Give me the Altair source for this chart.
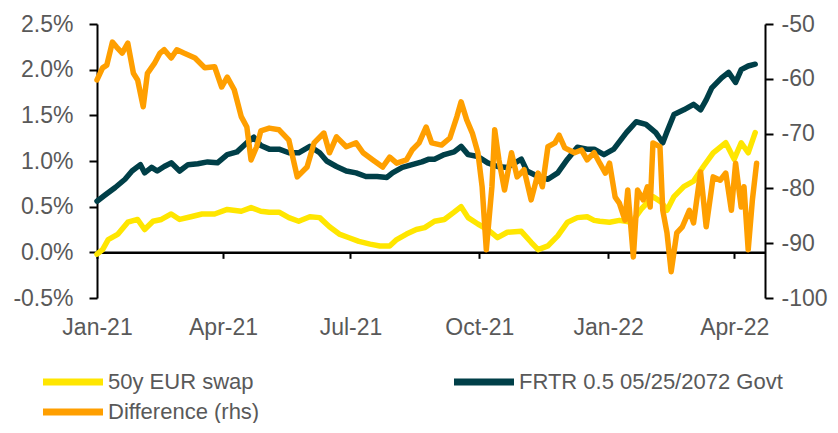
import altair as alt
import pandas as pd

SERIES = ["50y EUR swap", "FRTR 0.5 05/25/2072 Govt", "Difference (rhs)"]
COLORS = ["#FFE600", "#003F48", "#FF9F00"]
FONT = "Liberation Sans"
TXT = "#595959"

swap_dates = ["2021/01/01", "2021/01/05", "2021/01/09", "2021/01/16", "2021/01/23", "2021/01/30",
              "2021/02/04", "2021/02/10", "2021/02/16", "2021/02/23",
              "2021/03/01", "2021/03/09", "2021/03/17", "2021/03/26",
              "2021/04/04", "2021/04/14", "2021/04/21", "2021/04/28",
              "2021/05/04", "2021/05/11", "2021/05/18", "2021/05/25",
              "2021/06/02", "2021/06/09", "2021/06/16", "2021/06/23", "2021/06/30",
              "2021/07/07", "2021/07/15", "2021/07/22", "2021/07/29",
              "2021/08/03", "2021/08/10", "2021/08/17", "2021/08/23", "2021/08/30",
              "2021/09/06", "2021/09/13", "2021/09/18", "2021/09/23", "2021/09/30",
              "2021/10/07", "2021/10/14", "2021/10/21", "2021/10/31",
              "2021/11/07", "2021/11/12", "2021/11/19", "2021/11/26",
              "2021/12/03", "2021/12/10", "2021/12/17", "2021/12/22", "2021/12/26",
              "2022/01/02", "2022/01/09", "2022/01/18", "2022/01/25",
              "2022/02/02", "2022/02/08", "2022/02/12", "2022/02/17", "2022/02/24",
              "2022/03/03", "2022/03/10", "2022/03/17", "2022/03/26",
              "2022/04/01", "2022/04/06", "2022/04/11", "2022/04/16"]
swap_values = [-0.02, 0.03, 0.14, 0.20, 0.33, 0.36,
               0.25, 0.34, 0.36, 0.42,
               0.36, 0.39, 0.42, 0.42,
               0.47, 0.45, 0.49, 0.45,
               0.44, 0.44, 0.38, 0.34,
               0.39, 0.38, 0.28, 0.20, 0.16,
               0.12, 0.09, 0.07, 0.07,
               0.14, 0.20, 0.25, 0.27, 0.34,
               0.36, 0.44, 0.50, 0.38, 0.31,
               0.25, 0.16, 0.22, 0.23,
               0.11, 0.03, 0.07, 0.18,
               0.33, 0.38, 0.39, 0.35, 0.34,
               0.33, 0.35, 0.33, 0.48,
               0.61, 0.55, 0.46, 0.61, 0.72,
               0.78, 0.94, 1.09, 1.20,
               1.02, 1.20, 1.09, 1.31]

frtr_dates = ["2021/01/01", "2021/01/07", "2021/01/14", "2021/01/21", "2021/01/26",
              "2021/02/01", "2021/02/04", "2021/02/09", "2021/02/13", "2021/02/18", "2021/02/23",
              "2021/03/01", "2021/03/07", "2021/03/14", "2021/03/21", "2021/03/28",
              "2021/04/04", "2021/04/11", "2021/04/18", "2021/04/23", "2021/04/28",
              "2021/05/04", "2021/05/11", "2021/05/18", "2021/05/25",
              "2021/06/02", "2021/06/09", "2021/06/14", "2021/06/21", "2021/06/28",
              "2021/07/05", "2021/07/12", "2021/07/20", "2021/07/27", "2021/07/31",
              "2021/08/07", "2021/08/14", "2021/08/21", "2021/08/26", "2021/08/30",
              "2021/09/06", "2021/09/13", "2021/09/18", "2021/09/23", "2021/09/30",
              "2021/10/07", "2021/10/14", "2021/10/21", "2021/10/31",
              "2021/11/04", "2021/11/12", "2021/11/19", "2021/11/26",
              "2021/12/03", "2021/12/10", "2021/12/17", "2021/12/22", "2021/12/29",
              "2022/01/05", "2022/01/14", "2022/01/21", "2022/01/28",
              "2022/02/04", "2022/02/09", "2022/02/12", "2022/02/17", "2022/02/24",
              "2022/03/03", "2022/03/08", "2022/03/12", "2022/03/16", "2022/03/23", "2022/03/28",
              "2022/04/02", "2022/04/06", "2022/04/11", "2022/04/16"]
frtr_values = [0.56, 0.63, 0.71, 0.80, 0.89,
               0.96, 0.87, 0.93, 0.89, 0.94, 0.98,
               0.89, 0.96, 0.97, 0.99, 0.98,
               1.07, 1.10, 1.20, 1.26, 1.17,
               1.13, 1.13, 1.09, 1.09,
               1.16, 1.09, 1.00, 0.94, 0.89,
               0.87, 0.83, 0.83, 0.82, 0.87,
               0.93, 0.96, 0.99, 1.02, 1.02,
               1.07, 1.10, 1.16, 1.07, 1.05,
               0.98, 0.94, 0.93, 1.02,
               0.89, 0.83, 0.80, 0.87,
               1.02, 1.15, 1.13, 1.13, 1.07,
               1.13, 1.31, 1.43, 1.40,
               1.31, 1.20, 1.32, 1.51, 1.56,
               1.62, 1.56, 1.67, 1.80, 1.91, 1.97,
               1.86, 2.00, 2.04, 2.06]

diff_dates = ["2021/01/01", "2021/01/05", "2021/01/08", "2021/01/12", "2021/01/15", "2021/01/19",
              "2021/01/23", "2021/01/27", "2021/01/30",
              "2021/02/03", "2021/02/06", "2021/02/11", "2021/02/15", "2021/02/18", "2021/02/23", "2021/02/27",
              "2021/03/04", "2021/03/12", "2021/03/19", "2021/03/26", "2021/03/31",
              "2021/04/04", "2021/04/09", "2021/04/14", "2021/04/18", "2021/04/21", "2021/04/25", "2021/04/28",
              "2021/05/04", "2021/05/11", "2021/05/18", "2021/05/24", "2021/05/31",
              "2021/06/05", "2021/06/12", "2021/06/16", "2021/06/21", "2021/06/28",
              "2021/07/05", "2021/07/10", "2021/07/17", "2021/07/24", "2021/07/29",
              "2021/08/03", "2021/08/10", "2021/08/14", "2021/08/19", "2021/08/24", "2021/08/28",
              "2021/09/04", "2021/09/10", "2021/09/15", "2021/09/18", "2021/09/22", "2021/09/26", "2021/09/30",
              "2021/10/03", "2021/10/06", "2021/10/10", "2021/10/12", "2021/10/15", "2021/10/19",
              "2021/10/24", "2021/10/28",
              "2021/11/02", "2021/11/07", "2021/11/12", "2021/11/15", "2021/11/19", "2021/11/24", "2021/11/27",
              "2021/12/01", "2021/12/08", "2021/12/13", "2021/12/17", "2021/12/22", "2021/12/26", "2021/12/30",
              "2022/01/02", "2022/01/06", "2022/01/09", "2022/01/13", "2022/01/15", "2022/01/19",
              "2022/01/22", "2022/01/26", "2022/01/29", "2022/01/31",
              "2022/02/02", "2022/02/07", "2022/02/09", "2022/02/12", "2022/02/15", "2022/02/19",
              "2022/02/23", "2022/02/28",
              "2022/03/03", "2022/03/08", "2022/03/12", "2022/03/17", "2022/03/22", "2022/03/26", "2022/03/30",
              "2022/04/02", "2022/04/06", "2022/04/08", "2022/04/11", "2022/04/14", "2022/04/17"]
diff_values = [-60.2, -58.0, -57.5, -53.3, -54.2, -55.3,
               -53.5, -59.0, -60.2,
               -65.1, -59.0, -57.2, -55.3, -54.7, -56.2, -54.7,
               -55.3, -56.2, -58.0, -57.8, -61.5,
               -59.7, -62.0, -66.9, -68.8, -74.8, -72.4, -69.5,
               -69.0, -69.3, -71.2, -77.9, -76.1,
               -71.7, -69.9, -73.5, -70.6, -72.4,
               -71.7, -73.5, -74.8, -76.1, -74.3,
               -75.4, -74.8, -73.0, -71.7, -68.8, -71.7,
               -72.1, -70.8, -66.9, -64.2, -67.5, -69.9, -73.5,
               -79.7, -91.2, -79.7, -69.3, -74.8, -80.3,
               -73.5, -77.9,
               -76.6, -82.1, -77.2, -79.7, -72.4, -71.7, -70.3,
               -72.6, -73.5, -73.0, -74.8, -73.5, -75.4, -77.2,
               -75.4, -81.6, -82.7, -85.8, -80.3, -92.5,
               -80.3, -82.1, -79.7, -83.4,
               -71.7, -72.4, -84.0, -88.1, -95.2, -88.1,
               -87.0, -84.0,
               -86.3, -77.0, -87.0, -77.9, -78.5, -77.2, -84.0,
               -75.4, -83.4, -79.7, -91.2, -82.1, -75.4]

left_ticks = [-0.5, 0.0, 0.5, 1.0, 1.5, 2.0, 2.5]
right_ticks = [-100, -90, -80, -70, -60, -50]
x_ticks = [(2021, 1), (2021, 4), (2021, 7), (2021, 10), (2022, 1), (2022, 4)]

swap_df = pd.DataFrame({"date": swap_dates, "value": swap_values, "series": SERIES[0]})
frtr_df = pd.DataFrame({"date": frtr_dates, "value": frtr_values, "series": SERIES[1]})
diff_df = pd.DataFrame({"date": diff_dates, "value": diff_values, "series": SERIES[2]})

W, H = 668, 274
zero_offset = -H * (0.5 / 3.0)
FS = 23
LFS = 22

x_enc = alt.X(
    "date:T",
    scale=alt.Scale(domain=[alt.DateTime(year=2021, month=1, date=1),
                            alt.DateTime(year=2022, month=4, date=23)]),
    axis=alt.Axis(
        title=None, grid=False, format="%b-%y",
        values=[alt.DateTime(year=y, month=m, date=1) for y, m in x_ticks],
        offset=zero_offset, domainColor="black", domainWidth=2.5,
        tickColor="black", tickWidth=2, tickSize=6, labelPadding=58,
        labelFlush=False, labelOverlap=False,
        labelFont=FONT, labelFontSize=FS, labelColor=TXT,
    ),
)

color_enc = alt.Color(
    "series:N",
    scale=alt.Scale(domain=SERIES, range=COLORS),
    legend=alt.Legend(
        title=None, orient="none", legendX=-35, legendY=347, columns=2,
        direction="horizontal",
        symbolType="M-6,0H6", symbolSize=100, symbolStrokeWidth=7,
        labelFont=FONT, labelFontSize=LFS, labelColor=TXT, labelOffset=24,
        labelLimit=400,
        columnPadding=180, rowPadding=2, padding=0,
    ),
)

y_left = alt.Y(
    "value:Q",
    scale=alt.Scale(domain=[-0.5, 2.5], nice=False, zero=False),
    axis=alt.Axis(
        title=None, orient="left", grid=False, values=left_ticks,
        labelExpr="(datum.value < 0 ? '-' : '') + format(abs(datum.value), '.1f') + '%'",
        domainColor="black", domainWidth=2, tickColor="black", tickWidth=2, tickSize=8,
        labelPadding=16, labelFont=FONT, labelFontSize=FS, labelColor=TXT,
    ),
)
y_right = alt.Y(
    "value:Q",
    scale=alt.Scale(domain=[-100, -50], nice=False, zero=False),
    axis=alt.Axis(
        title=None, orient="right", grid=False, values=right_ticks,
        labelExpr="(datum.value < 0 ? '-' : '') + format(abs(datum.value), 'd')",
        domainColor="black", domainWidth=2, tickColor="black", tickWidth=2, tickSize=8,
        labelPadding=8, labelFont=FONT, labelFontSize=FS, labelColor=TXT,
    ),
)

line_kw = dict(strokeWidth=5.5, strokeJoin="round", strokeCap="round")

swap_line = alt.Chart(swap_df).mark_line(**line_kw).encode(x=x_enc, y=y_left, color=color_enc)
frtr_line = alt.Chart(frtr_df).mark_line(**line_kw).encode(x=x_enc, y=y_left, color=color_enc)
diff_line = alt.Chart(diff_df).mark_line(**line_kw).encode(x=x_enc, y=y_right, color=color_enc)

left = alt.layer(swap_line, frtr_line)
chart = (
    alt.layer(left, diff_line)
    .resolve_scale(y="independent")
    .properties(
        width=W, height=H,
        autosize=alt.AutoSizeParams(type="none"),
        padding={"left": 89, "top": 16, "right": 65, "bottom": 125},
    )
    .configure_view(stroke=None)
)

chart.save("out.html", embed_options={"renderer": "svg", "actions": False})
